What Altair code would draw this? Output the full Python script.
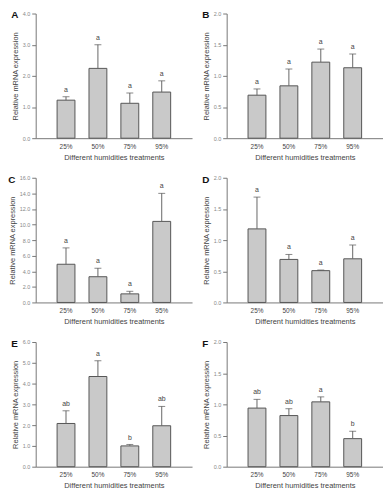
import altair as alt
import pandas as pd

cats = ["25%", "50%", "75%", "95%"]

A_mean = [1.22, 2.24, 1.12, 1.48]
A_upper = [1.33, 3.0, 1.45, 1.84]
A_let = ["a", "a", "a", "a"]

B_mean = [0.69, 0.84, 1.22, 1.13]
B_upper = [0.79, 1.11, 1.43, 1.35]
B_let = ["a", "a", "a", "a"]

C_mean = [4.9, 3.3, 1.1, 10.4]
C_upper = [7.0, 4.4, 1.43, 14.0]
C_let = ["a", "a", "a", "a"]

D_mean = [1.18, 0.69, 0.51, 0.70]
D_upper = [1.69, 0.77, 0.52, 0.92]
D_let = ["a", "a", "a", "a"]

E_mean = [2.08, 4.34, 1.0, 1.97]
E_upper = [2.69, 5.1, 1.07, 2.9]
E_let = ["ab", "a", "b", "ab"]

F_mean = [0.94, 0.82, 1.04, 0.45]
F_upper = [1.08, 0.93, 1.12, 0.57]
F_let = ["ab", "ab", "a", "b"]

A_ticks = [0, 1, 2, 3, 4]
B_ticks = [0, 0.5, 1.0, 1.5, 2.0]
C_ticks = [0, 2, 4, 6, 8, 10, 12, 14, 16]
D_ticks = [0, 0.5, 1.0, 1.5, 2.0]
E_ticks = [0, 1, 2, 3, 4, 5, 6]
F_ticks = [0, 0.5, 1.0, 1.5, 2.0]

W, H = 158, 126
FONT = "Liberation Sans"
YTITLE = "Relative mRNA expression"
XTITLE = "Different humidities treatments"


def panel(letter, means, uppers, lets, ticks):
    df = pd.DataFrame({"cat": cats, "mean": means, "upper": uppers, "let": lets})
    base = alt.Chart(df)
    xscale = alt.Scale(paddingInner=0.44, paddingOuter=0.67)
    xaxis = alt.Axis(
        title=XTITLE,
        labelAngle=0,
        ticks=False,
        labelFontSize=6.5,
        labelColor="#444",
        labelPadding=5,
        titlePadding=4,
    )
    yscale = alt.Scale(domain=[0, ticks[-1]], nice=False, zero=True)
    yaxis = alt.Axis(
        title=YTITLE,
        values=ticks,
        labelOverlap=False,
        format=".1f",
        titlePadding=3,
    )
    x = alt.X("cat:N", sort=cats, scale=xscale, axis=xaxis)
    bars = base.mark_bar(fill="#c9c9c9", stroke="#555555", strokeWidth=1).encode(
        x=x, y=alt.Y("mean:Q", scale=yscale, axis=yaxis)
    )
    rule = base.mark_rule(color="#666666", strokeWidth=1).encode(
        x=x, y=alt.Y("mean:Q", scale=yscale, axis=yaxis), y2="upper:Q"
    )
    cap = base.mark_tick(color="#555555", thickness=1, size=7).encode(
        x=x, y=alt.Y("upper:Q", scale=yscale, axis=yaxis)
    )
    text = base.mark_text(
        baseline="bottom", dy=-4, fontSize=7, color="#444444", font=FONT
    ).encode(x=x, y=alt.Y("upper:Q", scale=yscale, axis=yaxis), text="let:N")
    return alt.layer(bars, rule, cap, text).properties(
        width=W,
        height=H,
        title=alt.TitleParams(
            letter,
            anchor="start",
            frame="bounds",
            fontSize=10,
            fontWeight="bold",
            font=FONT,
            color="#111111",
            offset=-9,
        ),
    )


row1 = alt.hconcat(
    panel("A", A_mean, A_upper, A_let, A_ticks),
    panel("B", B_mean, B_upper, B_let, B_ticks),
    spacing=10,
)
row2 = alt.hconcat(
    panel("C", C_mean, C_upper, C_let, C_ticks),
    panel("D", D_mean, D_upper, D_let, D_ticks),
    spacing=10,
)
row3 = alt.hconcat(
    panel("E", E_mean, E_upper, E_let, E_ticks),
    panel("F", F_mean, F_upper, F_let, F_ticks),
    spacing=10,
)

chart = (
    alt.vconcat(row1, row2, row3, spacing=14)
    .properties(padding=0)
    .configure(font=FONT)
    .configure_view(stroke=None)
    .configure_axis(
        grid=False,
        domainColor="#777777",
        tickColor="#777777",
        tickSize=4,
        labelFontSize=5.5,
        labelColor="#888888",
        labelOverlap=False,
        titleFontSize=7.5,
        titleFontWeight="normal",
        titleColor="#444444",
        labelFont=FONT,
        titleFont=FONT,
    )
)

chart.save("out.html", embed_options={"renderer": "svg", "actions": False})
